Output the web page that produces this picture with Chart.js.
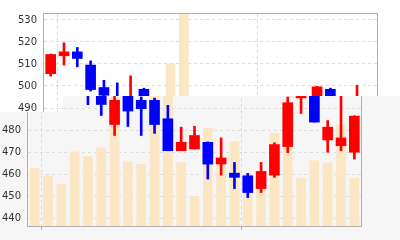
<!DOCTYPE html>
<html><head><meta charset="utf-8">
<script src="https://cdn.jsdelivr.net/npm/chart.js@4"></script>
<style>
html,body{margin:0;padding:0;background:#fff;}
#wrap{position:relative;width:400px;height:240px;overflow:hidden;background:#fff;}
.layer{position:absolute;top:0;width:400px;height:240px;}
#a{left:0;}
#patch{position:absolute;left:0;top:0;width:400px;height:240px;background:#f6f6f6;
  clip-path:polygon(63px 96px,400px 96px,400px 240px,0px 240px,0px 112px,63px 112px);overflow:hidden;}
#b{left:-16px;}
</style></head><body>
<div id="wrap">
  <div class="layer" id="a"><canvas id="ca" width="400" height="240"></canvas></div>
  <div id="patch"><div class="layer" id="b"><canvas id="cb" width="400" height="240"></canvas></div></div>
</div>
<script>
// trading days (x categories, no visible labels)
const days = ['1','2','3','4','5','6','7','8','9','10','11','12','13',
              '14','15','16','17','18','19','20','21','22','23','24','25'];
const openP  = [505.6,513.7,515.5,509.5,499.3,495.3,482.5,498.5,493.5,493.5,485.1,470.6,471.4,
                474.4,464.6,460.4,459.2,453.4,459.5,472.5,494.6,498.5,475.5,472.9,469.9];
const closeP = [514.3,515.5,512.5,498.4,495.8,491.6,493.5,488.6,489.7,482.5,470.6,474.4,477.5,
                464.5,467.3,458.5,451.6,461.2,473.4,492.4,499.6,483.6,481.3,476.4,486.3];
const highP  = [514.5,519.6,517.5,511.4,502.6,501.4,504.6,499.0,495.0,494.5,491.2,481.3,481.7,
                474.6,476.4,465.3,460.3,465.3,474.2,495.0,499.8,499.0,484.3,500.3,486.5];
const lowP   = [504.5,509.5,508.7,497.7,491.5,486.6,477.5,481.6,477.5,478.5,470.6,470.6,471.4,
                457.7,459.5,453.4,449.3,451.6,458.5,469.7,487.5,483.6,469.9,470.6,466.8];
const volume = [27.2,23.7,19.8,35.0,32.7,36.9,60.8,30.3,29.1,76.4,106,29.9,13.8,
                46.1,31.1,39.8,21.7,22.6,43.7,42.9,22.5,30.8,29.9,47.6,22.5];
const priceTicks = [440,450,460,470,480,490,500,510,520,530];
const markerDays = [1,16];

const UP = '#ff0000', DOWN = '#0000ff';
const candleColors = days.map((d,i) => closeP[i] >= openP[i] ? UP : DOWN);

const framePlugin = {
  id:'frame',
  afterDraw(chart){
    const a = chart.chartArea, c = chart.ctx;
    c.save();
    c.strokeStyle = '#b0b0b0'; c.lineWidth = 1;
    c.strokeRect(Math.round(a.left)-0.5, Math.round(a.top)-0.5,
                 Math.round(a.right-a.left)+1, Math.round(a.bottom-a.top)+1);
    c.restore();
  }
};

function makeChart(id){
  return new Chart(document.getElementById(id), {
    type:'bar',
    data:{
      labels: days,
      datasets:[
        {label:'body', data: days.map((d,i)=>[openP[i], closeP[i]]), backgroundColor: candleColors,
         barThickness:10, grouped:false, order:1, yAxisID:'y', borderWidth:0},
        {label:'wick', data: days.map((d,i)=>[lowP[i], highP[i]]), backgroundColor: candleColors,
         barThickness:2, grouped:false, order:2, yAxisID:'y', borderWidth:0},
        {label:'volume', data: volume, backgroundColor:'#fbe7c3',
         barThickness:9, grouped:false, order:3, yAxisID:'v', borderWidth:0}
      ]
    },
    options:{
      responsive:false, animation:false,
      layout:{padding:{left:0, right:23, top:14, bottom:0}},
      plugins:{legend:{display:false}, tooltip:{enabled:false}},
      scales:{
        x:{
          offset:true,
          ticks:{display:false},
          grid:{
            color: ctx => markerDays.includes(ctx.index) ? '#d8d8d8' : 'rgba(0,0,0,0)',
            tickColor: ctx => markerDays.includes(ctx.index) ? '#b0b0b0' : 'rgba(0,0,0,0)',
            drawTicks:true, tickLength:4
          },
          border:{display:false, dash:[3,3]},
          afterFit: s => { s.height = 14; }
        },
        y:{
          position:'left', min:436.4, max:532.7,
          afterBuildTicks: s => { s.ticks = priceTicks.map(v => ({value:v})); },
          ticks:{color:'#333', padding:7, font:{family:'DejaVu Sans', size:10}},
          grid:{color:'#dddddd', drawTicks:false},
          border:{display:false, dash:[3,3]},
          afterFit: s => { s.width = 44; }
        },
        v:{display:false, min:0, max:100}
      }
    },
    plugins:[framePlugin]
  });
}
makeChart('ca');
makeChart('cb');
</script>
</body></html>
